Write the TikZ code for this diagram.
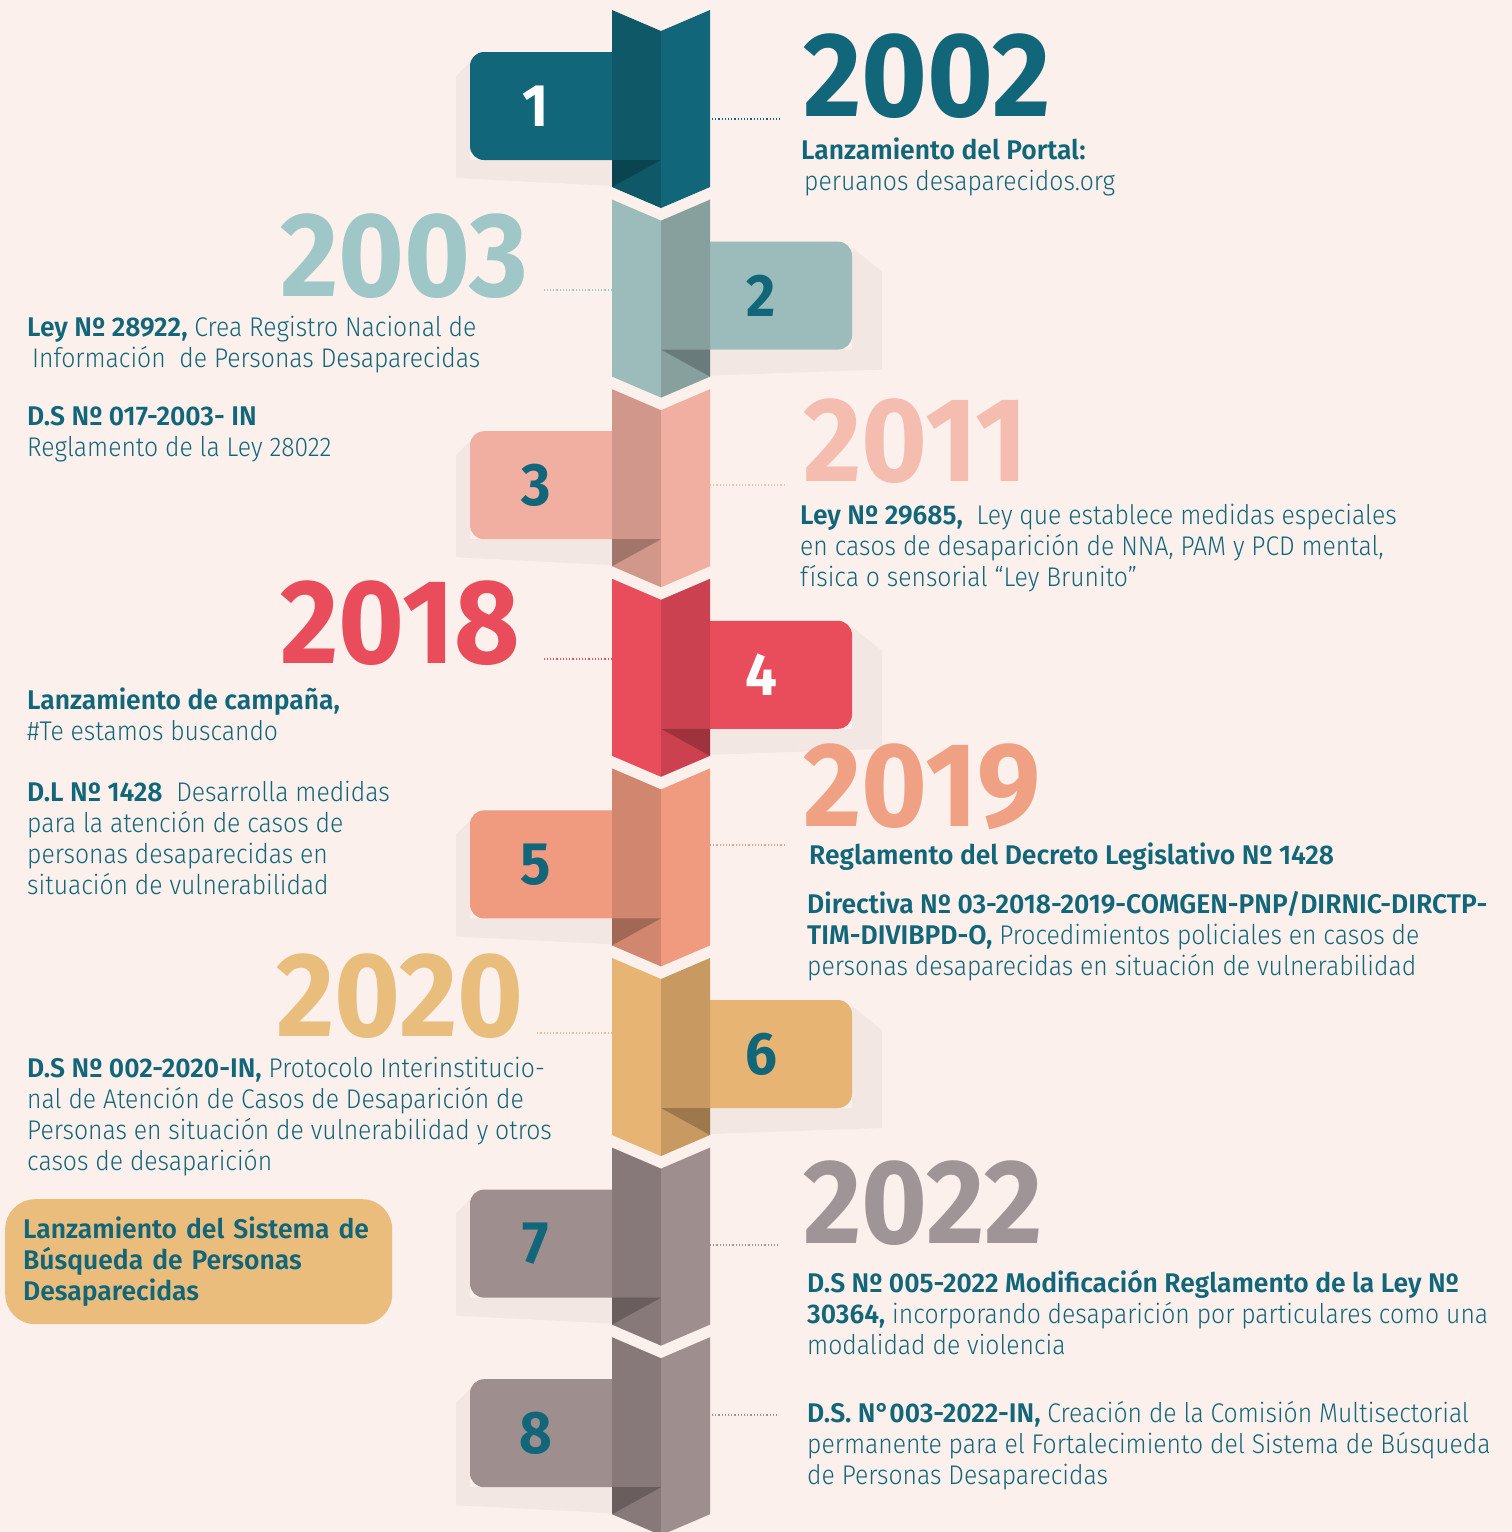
\documentclass[tikz,border=0pt]{standalone}
\usepackage{fontspec}
\setmainfont{Fira Sans Light}[UprightFeatures={FakeStretch=0.915}, BoldFont={Fira Sans SemiBold}, BoldFeatures={FakeStretch=0.98}]
\newfontfamily\yearfont{Fira Sans Bold}[FakeStretch=0.94]
\usetikzlibrary{positioning}
\definecolor{bgc}{HTML}{FBF0EC}
\definecolor{segA}{HTML}{12667A}
\definecolor{segAd}{HTML}{0F5868}
\definecolor{segB}{HTML}{9BBCBA}
\definecolor{segBd}{HTML}{87A09E}
\definecolor{segC}{HTML}{F0AFA1}
\definecolor{segCd}{HTML}{D0978A}
\definecolor{segD}{HTML}{E94D5C}
\definecolor{segDd}{HTML}{CB414F}
\definecolor{segE}{HTML}{F09A80}
\definecolor{segEd}{HTML}{D0866F}
\definecolor{segF}{HTML}{E8B473}
\definecolor{segFd}{HTML}{C89A62}
\definecolor{segG}{HTML}{9E8E8E}
\definecolor{segGd}{HTML}{877879}
\definecolor{yrB}{HTML}{9FC7C7}
\definecolor{yrC}{HTML}{F5BDB0}
\definecolor{yrE}{HTML}{F0A184}
\definecolor{yrF}{HTML}{E9BD7C}
\definecolor{yrG}{HTML}{A09596}
\definecolor{boxc}{HTML}{EBBD7D}

\begin{document}
\begin{tikzpicture}[x=1pt, y=-1pt,
  year/.style={anchor=base west, inner sep=0pt, text height=83pt, text depth=0pt, font=\yearfont\fontsize{120}{120}\selectfont},
  txt/.style={anchor=base west, inner sep=0pt, align=left, text=segA, font=\fontsize{27}{31}\selectfont},
  tabnum/.style={font=\yearfont\fontsize{60}{60}\selectfont},
  dotline/.style={dotted, line width=1.2pt},
  fold/.style={fill=black, fill opacity=0.22},
  tabshadow/.style={fill=black, fill opacity=0.035}]
  \fill[bgc] (0,0) rectangle (1512,1532);
  \useasboundingbox (0,0) rectangle (1512,1532);

  \foreach \k/\c/\d/\nc in {1/segA/segAd/white, 3/segC/segCd/segA, 5/segE/segEd/segA, 7/segG/segGd/segA, 8/segG/segGd/segA} {
    \pgfmathsetmacro\t{10+(\k-1)*189.6}
    \fill[tabshadow] (470,\t+52) -- (456,\t+66) -- (456,\t+168) -- (612,\t+176) -- (612,\t+150) -- (470,\t+150) -- cycle;
    \fill[\c, rounded corners=14pt] (650,\t+42) -- (470,\t+42) -- (470,\t+150) -- (650,\t+150) -- cycle;
    \fill[\d] (612,\t) -- (661,\t+21) -- (661,\t+198) -- (612,\t+177) -- cycle;
    \fill[\c] (661,\t+21) -- (710,\t) -- (710,\t+177) -- (661,\t+198) -- cycle;
    \fill[fold] (612,\t+150) -- (661,\t+150) -- (612,\t+177) -- cycle;
    \node[tabnum, text=\nc] (num\k) at (536,\t+96) {\k};
  }
  \foreach \k/\c/\d/\nc in {2/segB/segBd/segA, 4/segD/segDd/white, 6/segF/segFd/segA} {
    \pgfmathsetmacro\t{10+(\k-1)*189.6}
    \fill[tabshadow] (852,\t+48) -- (882,\t+72) -- (882,\t+170) -- (710,\t+176) -- (710,\t+150) -- (852,\t+150) -- cycle;
    \fill[\c, rounded corners=14pt] (672,\t+42) -- (852,\t+42) -- (852,\t+150) -- (672,\t+150) -- cycle;
    \fill[\c] (612,\t) -- (661,\t+21) -- (661,\t+198) -- (612,\t+177) -- cycle;
    \fill[\d] (661,\t+21) -- (710,\t) -- (710,\t+177) -- (661,\t+198) -- cycle;
    \fill[fold] (661,\t+150) -- (710,\t+150) -- (710,\t+177) -- cycle;
    \node[tabnum, text=\nc] (num\k) at (761,\t+96) {\k};
  }

  \node[year, text=segA] (y2002) at (803,116) {2002};
  \node[year, text=yrB] (y2003) at (280,296) {2003};
  \node[year, text=yrC] (y2011) at (803,481) {2011};
  \node[year, text=segD] (y2018) at (280,663) {2018};
  \node[year, text=yrE] (y2019) at (803,826) {2019};
  \node[year, text=yrF] (y2020) at (276,1036) {2020};
  \node[year, text=yrG] (y2022) at (803,1243) {2022};

  \coordinate (s1) at (712,119);  \coordinate (e1) at (782,119);
  \coordinate (s2) at (612,290);  \coordinate (e2) at (542,290);
  \coordinate (s3) at (710,485);  \coordinate (e3) at (785,485);
  \coordinate (s4) at (612,659);  \coordinate (e4) at (542,659);
  \coordinate (s5) at (710,845);  \coordinate (e5) at (785,845);
  \coordinate (s6) at (612,1033); \coordinate (e6) at (537,1033);
  \coordinate (s7) at (710,1245); \coordinate (e7) at (778,1245);
  \coordinate (s8) at (712,1415); \coordinate (e8) at (778,1415);
  \draw[dotline, segA] (s1) -- (e1);
  \draw[dotline, yrB] (s2) -- (e2);
  \draw[dotline, yrC] (s3) -- (e3);
  \draw[dotline, segD] (s4) -- (e4);
  \draw[dotline, yrE] (s5) -- (e5);
  \draw[dotline, yrF] (s6) -- (e6);
  \draw[dotline, yrG] (s7) -- (e7);
  \draw[dotline, yrG] (s8) -- (e8);

  \node[txt] (t2002) at (801,190) {\textbf{Lanzamiento del Portal:}\\\hspace*{3pt}peruanos desaparecidos.org};
  \node[txt] (t2003a) at (27,367) {\textbf{Ley Nº 28922,} Crea Registro Nacional de\\\hspace*{5pt}Información\ \ de Personas Desaparecidas};
  \node[txt] (t2003b) at (27,456) {\textbf{D.S Nº 017-2003- IN}\\Reglamento de la Ley 28022};
  \node[txt] (t2011) at (800,586) {\textbf{Ley Nº 29685,}\ \ Ley que establece medidas especiales\\en casos de desaparición de NNA, PAM y PCD mental,\\física o sensorial “Ley Brunito”};
  \node[txt] (t2018a) at (27,740) {\textbf{Lanzamiento de campaña,}\\\#Te estamos buscando};
  \node[txt] (t2018b) at (27,894) {\textbf{D.L Nº 1428}\ \ Desarrolla medidas\\para la atención de casos de\\personas desaparecidas en\\situación de vulnerabilidad};
  \node[txt] (t2019a) at (809,864) {\textbf{Reglamento del Decreto Legislativo Nº 1428}};
  \node[txt] (t2019b) at (807,975) {\textbf{Directiva Nº 03-2018-2019-COMGEN-PNP/DIRNIC-DIRCTP-}\\\textbf{TIM-DIVIBPD-O,} Procedimientos policiales en casos de\\personas desaparecidas en situación de vulnerabilidad};
  \node[txt] (t2020) at (27,1170) {\textbf{D.S Nº 002-2020-IN,} Protocolo Interinstitucio-\\nal de Atención de Casos de Desaparición de\\Personas en situación de vulnerabilidad y otros\\casos de desaparición};
  \node[fill=boxc, rounded corners=30pt, anchor=north west, minimum width=387pt, minimum height=125pt, text width=351pt, inner xsep=18pt, align=left, text=segA, font=\bfseries\fontsize{27}{31}\selectfont] (sistema) at (5,1199) {Lanzamiento del Sistema de\\Búsqueda de Personas\\Desaparecidas};
  \node[txt] (t2022a) at (807,1354) {\textbf{D.S Nº 005-2022 Modificación Reglamento de la Ley Nº}\\\textbf{30364,} incorporando desaparición por particulares como una\\modalidad de violencia};
  \node[txt] (t2022b) at (807,1484) {\textbf{D.S. N°003-2022-IN,} Creación de la Comisión Multisectorial\\permanente para el Fortalecimiento del Sistema de Búsqueda\\de Personas Desaparecidas};
\end{tikzpicture}
\end{document}
